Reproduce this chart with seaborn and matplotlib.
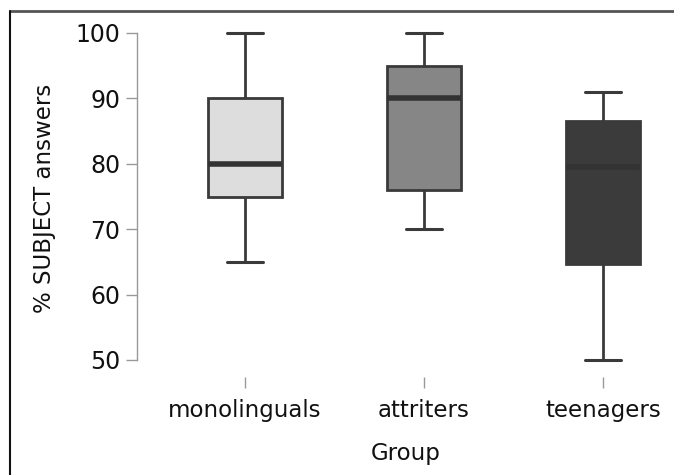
import matplotlib
matplotlib.use("Agg")
import matplotlib.pyplot as plt
import seaborn as sns
import pandas as pd
from matplotlib.lines import Line2D

groups = ["monolinguals", "attriters", "teenagers"]
# five-number summaries (min, Q1, median, Q3, max)
monolinguals = [65, 75, 80, 90, 100]
attriters = [70, 76, 90, 95, 100]
teenagers = [50, 64.7, 79.5, 86.5, 91]
colors = ["#dddddd", "#868686", "#3b3b3b"]
yticks = [50, 60, 70, 80, 90, 100]

df = pd.DataFrame({
    "Group": [g for g, v in zip(groups, [monolinguals, attriters, teenagers]) for _ in v],
    "val": monolinguals + attriters + teenagers,
})

sns.set_style("white")
plt.rcParams["font.family"] = ["DejaVu Sans"]

fig = plt.figure(figsize=(6.74, 4.75), dpi=100)
W, H = 674, 475
left_px, right_px, top_px, bot_px = 137, 674, 20, 377
ax = fig.add_axes([left_px / W, 1 - bot_px / H, (right_px - left_px) / W, (bot_px - top_px) / H])

edge = "#3a3a3a"
sns.boxplot(data=df, x="Group", y="val", hue="Group", palette=colors, legend=False,
            order=groups, width=0.41, linewidth=2, linecolor=edge,
            medianprops=dict(color="#333333", linewidth=4),
            whiskerprops=dict(color=edge, linewidth=2),
            capprops=dict(color=edge, linewidth=2.2),
            showfliers=False, ax=ax)

# px mapping: x categories at 245,424,603 px
xscale = 179.0
ax.set_xlim(-(245 - left_px) / xscale, (right_px - 245) / xscale)
yscale = (360 - 33) / 50.0
ax.set_ylim(50 - (bot_px - 360) / yscale, 100 + (33 - top_px) / yscale)

for s in ["top", "right", "bottom"]:
    ax.spines[s].set_visible(False)
ax.spines["left"].set_bounds(50, 100)
ax.spines["left"].set_color("#999999")
ax.spines["left"].set_linewidth(1)

ax.set_yticks(yticks)
ax.set_yticklabels([str(t) for t in yticks])
ax.tick_params(axis="y", which="both", left=True, length=8, width=1, color="#999999",
               labelsize=17, pad=4, labelcolor="#111111")
ax.tick_params(axis="x", which="both", bottom=True, length=8, width=1, color="#999999",
               labelsize=16.5, pad=8, labelcolor="#111111")

ax.set_ylabel("% SUBJECT answers", fontsize=16.5, labelpad=14, color="#111111")
ax.set_xlabel("Group", fontsize=16.5, labelpad=14, color="#111111")

# frame lines around the figure (top and left visible)
fig.add_artist(Line2D([9.5 / W, 1.0], [1 - 11 / H, 1 - 11 / H], color="#555555", linewidth=2,
                      transform=fig.transFigure))
fig.add_artist(Line2D([9.5 / W, 9.5 / W], [0, 1 - 11 / H], color="#111111", linewidth=1.5,
                      transform=fig.transFigure))

fig.savefig("out.png", dpi=100)
